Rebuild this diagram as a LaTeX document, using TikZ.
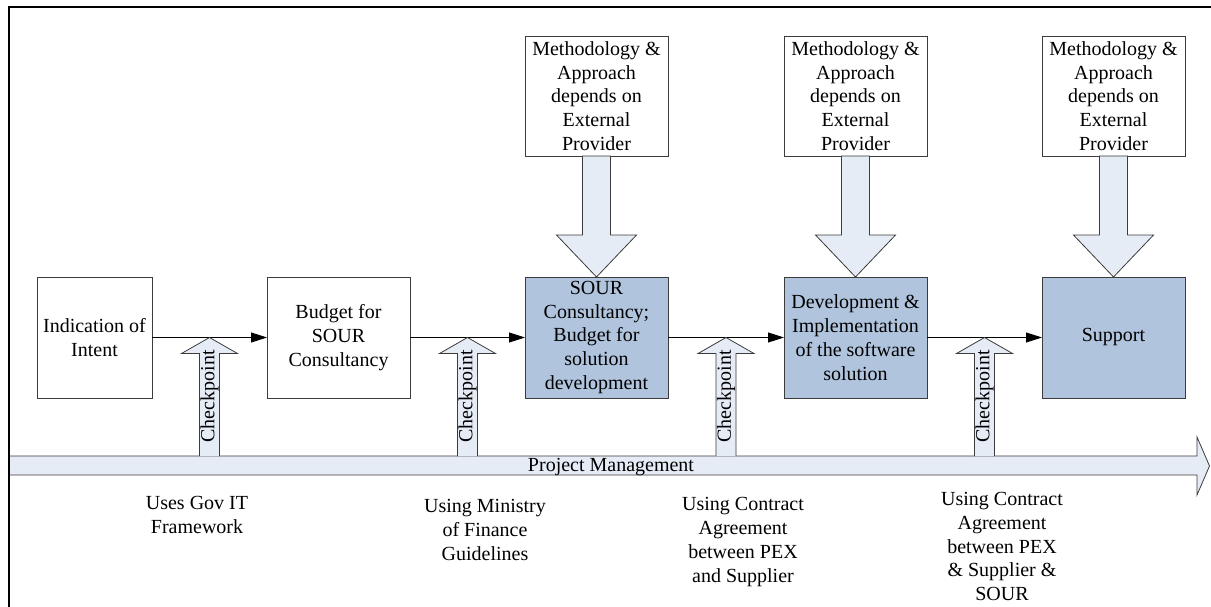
\documentclass[tikz,border=0pt]{standalone}
\usepackage{fontspec}
\setmainfont{Liberation Serif}
\usetikzlibrary{calc,arrows.meta}
\definecolor{boxblue}{RGB}{176,196,222}
\definecolor{arrfill}{RGB}{230,236,246}
\definecolor{edgegray}{RGB}{60,60,60}
\begin{document}
\begin{tikzpicture}[x=1pt,y=-1pt,
  every node/.style={font=\fontsize{20}{23.8}\selectfont},
  stage/.style={draw=edgegray, line width=0.9pt, minimum height=121pt, inner sep=0pt, outer sep=0pt, align=center},
  plainbox/.style={stage, fill=white},
  shadedbox/.style={stage, fill=boxblue},
  methodbox/.style={draw=edgegray, line width=0.9pt, fill=white, minimum width=143pt, minimum height=120pt, inner sep=0pt, outer sep=0pt, align=center},
  flow/.style={draw=black, line width=0.8pt, -{Triangle[length=16pt,width=10pt]}},
  blockarrow/.style={draw=edgegray, line width=0.8pt, fill=arrfill, line join=miter},
  notelabel/.style={align=center, inner sep=0pt}
]
\useasboundingbox (0,0) rectangle (1211,607);

% main stages
\node[plainbox, minimum width=115pt] (b1) at (94.5,337.5) {Indication of\\Intent};
\node[plainbox, minimum width=143pt] (b2) at (338.5,337.5) {Budget for\\SOUR\\Consultancy};
\node[shadedbox, minimum width=143pt] (b3) at (596.5,337.5) {SOUR\\Consultancy;\\Budget for\\solution\\development};
\node[shadedbox, minimum width=143pt] (b4) at (855.5,337.5) {Development \&\\Implementation\\of the software\\solution};
\node[shadedbox, minimum width=143pt] (b5) at (1113.5,337.5) {Support};

% methodology boxes
\node[methodbox] (m3) at (596.5,96) {Methodology \&\\Approach\\depends on\\External\\Provider};
\node[methodbox] (m4) at (855.5,96) {Methodology \&\\Approach\\depends on\\External\\Provider};
\node[methodbox] (m5) at (1113.5,96) {Methodology \&\\Approach\\depends on\\External\\Provider};

% down block arrows
\foreach \m/\b in {m3/b3, m4/b4, m5/b5}{
  \draw[blockarrow] ($(\m.south)+(-14,0)$) -- ($(\b.north)+(-14,-42)$) -- ($(\b.north)+(-40,-42)$) -- (\b.north) -- ($(\b.north)+(40,-42)$) -- ($(\b.north)+(14,-42)$) -- ($(\m.south)+(14,0)$) -- cycle;
}

% flow connectors
\draw[flow] (b1) -- (b2);
\draw[flow] (b2) -- (b3);
\draw[flow] (b3) -- (b4);
\draw[flow] (b4) -- (b5);

% project management bar
\coordinate (pmL) at (9,456);
\coordinate (pmLB) at (9,475);
\coordinate (pmTip) at (1209.5,466);
\draw[blockarrow] (pmL) -- (1197,456) -- (1197,437) -- (pmTip) -- (1197,495) -- (1197,475) -- (pmLB);
\node[inner sep=0pt] (pm) at (611,467) {Project Management};

% checkpoints
\coordinate (t1) at ($(b1.east)!0.5!(b2.west)$);
\coordinate (t2) at ($(b2.east)!0.5!(b3.west)$);
\coordinate (t3) at ($(b3.east)!0.5!(b4.west)$);
\coordinate (t4) at ($(b4.east)!0.5!(b5.west)$);
\foreach \t in {t1,t2,t3,t4}{
  \draw[blockarrow] ($(\t|-pmL)+(-10,0)$) -- ($(\t)+(-10,16)$) -- ($(\t)+(-28,16)$) -- (\t) -- ($(\t)+(28,16)$) -- ($(\t)+(10,16)$) -- ($(\t|-pmL)+(10,0)$);
  \node[rotate=90, inner sep=0pt] (\t lab) at ($(\t)+(0,59)$) {Checkpoint};
}

% notes below
\node[notelabel] (n1) at (197,515) {Uses Gov IT\\Framework};
\node[notelabel] (n2) at (485,530) {Using Ministry\\of Finance\\Guidelines};
\node[notelabel] (n3) at (743,542) {Using Contract\\Agreement\\between PEX\\and Supplier};
\node[notelabel] (n4) at (1002,546.5) {Using Contract\\Agreement\\between PEX\\\& Supplier \&\\SOUR};

% frame
\draw[line width=2.5pt, line join=miter] (1211,7) -- (9,7) -- (9,607);
\end{tikzpicture}
\end{document}
